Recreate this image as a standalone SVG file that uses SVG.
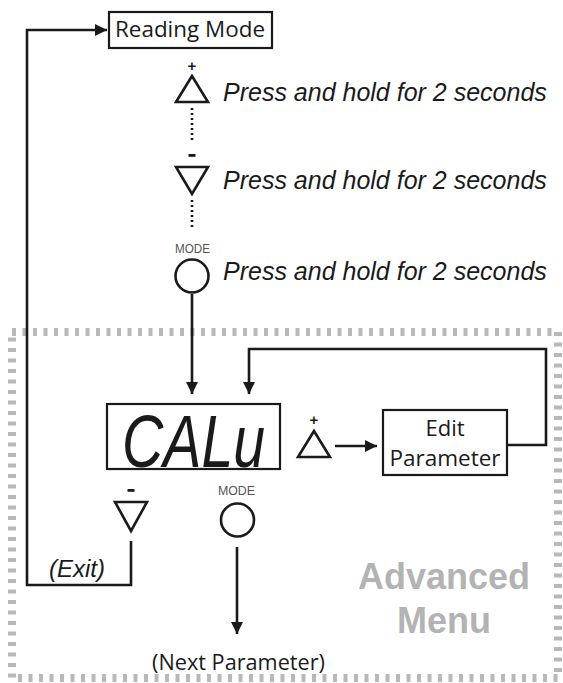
<svg xmlns="http://www.w3.org/2000/svg" width="563" height="683" viewBox="0 0 563 683">
<style>
.ln{fill:none;stroke:#1a1a1a;stroke-width:2.6}
.dot{fill:none;stroke:#1a1a1a;stroke-width:2.6;stroke-dasharray:2 3}
.box{fill:#fff;stroke:#1a1a1a;stroke-width:2.2}
.btn{fill:#fff;stroke:#1a1a1a;stroke-width:2.6}
.lbl{font-family:"Open Sans","Noto Sans","Liberation Sans",sans-serif;fill:#1a1a1a}
.it{font-family:"Liberation Sans",Arial,sans-serif;font-style:italic;fill:#1a1a1a}
.mode{font-family:"Liberation Sans",Arial,sans-serif;fill:#555;font-size:12px}
.sign{font-family:"Liberation Sans",Arial,sans-serif;fill:#1a1a1a;font-weight:bold;font-size:15px;text-anchor:middle}
.adv{font-family:"Liberation Sans",Arial,sans-serif;font-weight:bold;font-size:36px;fill:#b3b3b3;text-anchor:middle}
</style>
<defs>
<marker id="ah" viewBox="0 0 10 10" refX="10" refY="5" markerWidth="4.8" markerHeight="4.8" orient="auto" markerUnits="strokeWidth">
<path d="M0,0 L10,5 L0,10 z" fill="#1a1a1a"/>
</marker>
</defs>
<rect id="advanced-menu-border" x="12" y="332" width="546" height="346" fill="none" stroke="#b8b8b8" stroke-width="8" stroke-dasharray="4 6.5"/>
<g id="advanced-menu-label">
<text class="adv" x="444" y="589">Advanced</text>
<text class="adv" x="444" y="633">Menu</text>
</g>
<g id="connectors">
<path class="ln" d="M131,541 V585 H27 V30 H107" marker-end="url(#ah)"/>
<path class="dot" d="M192,108 V143"/>
<path class="dot" d="M192,200 V229"/>
<path class="ln" d="M192,294 V394" marker-end="url(#ah)"/>
<path class="ln" d="M335,446 H377" marker-end="url(#ah)"/>
<path class="ln" d="M507,445 H546 V349 H249 V394" marker-end="url(#ah)"/>
<path class="ln" d="M237,547 V634" marker-end="url(#ah)"/>
</g>
<g id="reading-mode">
<rect class="box" x="109" y="12" width="163" height="36"/>
<text class="lbl" x="115" y="37" font-size="22.5" textLength="150" lengthAdjust="spacingAndGlyphs">Reading Mode</text>
</g>
<g id="btn-up-1">
<text class="sign" x="192" y="71">+</text>
<polygon class="btn" points="192,76 176,102 208,102"/>
<text class="it" x="223" y="101" font-size="25">Press and hold for 2 seconds</text>
</g>
<g id="btn-down-1">
<rect x="188.5" y="154" width="7" height="2.8" fill="#1a1a1a"/>
<polygon class="btn" points="176,167 208,167 192,194"/>
<text class="it" x="223" y="189" font-size="25">Press and hold for 2 seconds</text>
</g>
<g id="btn-mode-1">
<text class="mode" x="175" y="253" textLength="35" lengthAdjust="spacingAndGlyphs">MODE</text>
<circle class="btn" cx="192" cy="276" r="16.5"/>
<text class="it" x="223" y="280" font-size="25">Press and hold for 2 seconds</text>
</g>
<g id="display-calu">
<rect class="box" x="107" y="404" width="173" height="65"/>
<text x="122" y="467" font-family="Liberation Sans, Arial, sans-serif" font-style="italic" font-size="75" fill="#1a1a1a" textLength="143" lengthAdjust="spacingAndGlyphs">CALu</text>
</g>
<g id="btn-up-2">
<text class="sign" x="314" y="425">+</text>
<polygon class="btn" points="314,431 298,457 330,457"/>
</g>
<g id="edit-parameter">
<rect class="box" x="383" y="410" width="124" height="65"/>
<text class="lbl" x="445" y="436" font-size="22" text-anchor="middle">Edit</text>
<text class="lbl" x="445" y="466" font-size="22" text-anchor="middle" textLength="111" lengthAdjust="spacingAndGlyphs">Parameter</text>
</g>
<g id="btn-down-2">
<rect x="127.5" y="489" width="7" height="2.8" fill="#1a1a1a"/>
<polygon class="btn" points="115,502 147,502 131,531"/>
</g>
<g id="exit-label">
<text class="it" x="49" y="577" font-size="24">(Exit)</text>
</g>
<g id="btn-mode-2">
<text class="mode" x="218" y="495" textLength="37" lengthAdjust="spacingAndGlyphs">MODE</text>
<circle class="btn" cx="237.5" cy="520" r="16.5"/>
</g>
<g id="next-parameter">
<text class="lbl" x="152" y="670" font-size="22" textLength="173" lengthAdjust="spacingAndGlyphs">(Next Parameter)</text>
</g>
</svg>
